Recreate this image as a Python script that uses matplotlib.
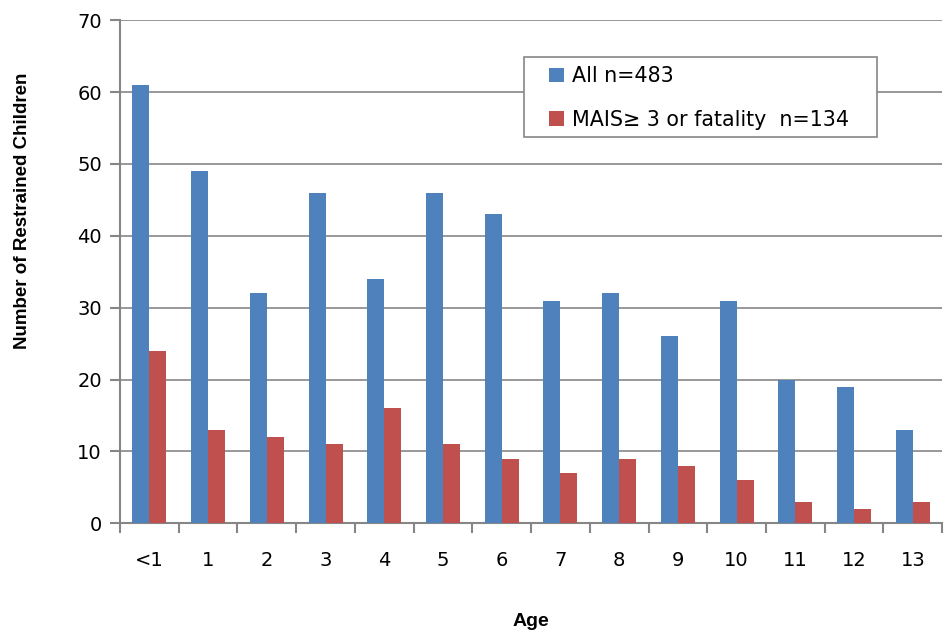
import matplotlib
matplotlib.use("Agg")
import matplotlib.pyplot as plt
from matplotlib.patches import Rectangle
import numpy as np

ages = ['<1', '1', '2', '3', '4', '5', '6', '7', '8', '9', '10', '11', '12', '13']
all_counts = [61, 49, 32, 46, 34, 46, 43, 31, 32, 26, 31, 20, 19, 13]
severe_counts = [24, 13, 12, 11, 16, 11, 9, 7, 9, 8, 6, 3, 2, 3]

BLUE = '#4F81BD'
RED = '#C0504D'
GRID = '#868686'

fig = plt.figure(figsize=(9.45, 6.32), dpi=100)
ax = fig.add_axes([0.127, 0.172, 0.870, 0.796])

x = np.arange(len(ages))
w = 0.29
ax.bar(x - w / 2, all_counts, w, color=BLUE, label='All n=483', zorder=3)
ax.bar(x + w / 2, severe_counts, w, color=RED, label='MAIS\u2265 3 or fatality  n=134', zorder=3)

ax.set_xlim(-0.5, len(ages) - 0.5)
ax.set_ylim(0, 70)
ax.set_yticks(range(0, 71, 10))
ax.yaxis.grid(True, color=GRID, linewidth=1.2, zorder=0)

# x ticks sit between categories, labels centred under each pair
ax.set_xticks(np.arange(-0.5, len(ages), 1.0))
ax.set_xticklabels([])
ax.set_xticks(x, minor=True)
ax.set_xticklabels(ages, minor=True, fontsize=14)
ax.tick_params(axis='x', which='minor', length=0, pad=20)
ax.tick_params(axis='x', which='major', length=7, width=1.5, color=GRID, direction='out')
ax.tick_params(axis='y', length=7, width=1.5, color=GRID, labelsize=14, pad=6)

for side in ['top', 'right']:
    ax.spines[side].set_visible(False)
for side in ['left', 'bottom']:
    ax.spines[side].set_color(GRID)
    ax.spines[side].set_linewidth(1.5)

ax.set_xlabel('Age', fontsize=14, fontweight='bold', family='Liberation Sans')
ax.xaxis.set_label_coords(0.5, -0.178)
ax.set_ylabel('Number of Restrained Children', fontsize=13.5, fontweight='bold',
              family='Liberation Sans')
# label sits a little above the axis centre, as in the original
ax.yaxis.set_label_coords(-0.108, 0.622)

# legend box drawn separately so the inner padding can be wider than tall
ax.add_patch(Rectangle((0.4915, 0.767), 0.4295, 0.159, transform=ax.transAxes,
                       facecolor='white', edgecolor=GRID, linewidth=1.2, zorder=4))
leg = ax.legend(loc='upper left', bbox_to_anchor=(0.522, 0.909), fontsize=14.9,
                frameon=False, handlelength=0.7, handleheight=0.7, labelspacing=1.15,
                borderpad=0, handletextpad=0.4, borderaxespad=0)
leg.set_zorder(5)

plt.savefig('out.png', dpi=100)
